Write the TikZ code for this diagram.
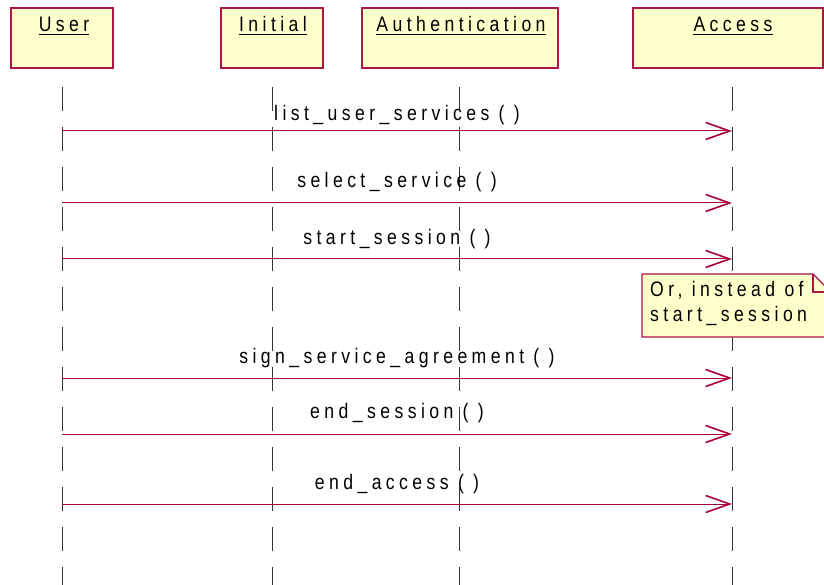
\documentclass[tikz,border=0pt]{standalone}
\usepackage{fontspec}
\usetikzlibrary{arrows.meta}
\newfontfamily\umlfont{Liberation Sans}[LetterSpace=21, FakeStretch=0.84]

\definecolor{objfill}{RGB}{255,255,204}
\definecolor{objline}{RGB}{170,20,70}
\definecolor{msgred}{RGB}{170,0,60}

\tikzset{
  objbox/.style={draw=objline, fill=objfill, line width=1.3pt},
  umltext/.style={font=\umlfont\fontsize{21}{25}\selectfont, inner sep=0pt},
  headtext/.style={umltext, anchor=base},
  msgtext/.style={umltext, anchor=base},
  lifeline/.style={draw=black!80, line width=0.9pt, dash pattern=on 24pt off 16pt},
  msg/.style={draw=msgred, line width=1pt,
    -{Straight Barb[length=24pt, width=17pt, line width=1.6pt]}},
  notebox/.style={draw=objline, fill=objfill, line width=1.1pt},
}

\begin{document}
\begin{tikzpicture}[x=1pt, y=-1pt]
\useasboundingbox (0,0) rectangle (824,585);
\clip (0,0) rectangle (824,585);

% object boxes
\path[objbox] (11,8) rectangle (113,68) coordinate (ubox);
\path[objbox] (221,8) rectangle (323,68) coordinate (ibox);
\path[objbox] (362,8) rectangle (558,68) coordinate (abox);
\path[objbox] (633,8) rectangle (823,68) coordinate (xbox);

% object names, underlined
\node[headtext] (uname) at (64,32) {User};
\node[headtext] (iname) at (273,32) {Initial};
\node[headtext] (aname) at (461,32) {Authentication};
\node[headtext] (xname) at (733,32) {Access};
\foreach \n in {uname,iname,aname,xname}
  \draw[line width=0.8pt] ([yshift=-2pt]\n.base west) -- ([yshift=-2pt]\n.base east);

% lifelines
\coordinate (utop) at (62,87);   \coordinate (ubot) at (62,600);
\coordinate (itop) at (272,87);  \coordinate (ibot) at (272,600);
\coordinate (atop) at (459,87);  \coordinate (abot) at (459,600);
\coordinate (xtop) at (732,87);  \coordinate (xbot) at (732,600);
\draw[lifeline] (utop) -- (ubot);
\draw[lifeline] (itop) -- (ibot);
\draw[lifeline] (atop) -- (abot);
\draw[lifeline] (xtop) -- (xbot);

% messages from User to Access
\foreach \k/\yy/\bl/\lbl in {
  1/131/121/{list\_user\_services ( )},
  2/203/188/{select\_service ( )},
  3/259/244/{start\_session ( )},
  4/378/363/{sign\_service\_agreement ( )},
  5/434/418/{end\_session ( )},
  6/504/489/{end\_access ( )}}{
  \coordinate (u\k) at (62,\yy);
  \coordinate (x\k) at (732,\yy);
  \draw[msg, draw=msgred] (u\k) -- (x\k);
  \node[msgtext] (m\k) at (397,\bl) {\lbl};
}

% note with folded corner
\path[notebox] (642,274) -- (813,274) -- (831,292) -- (831,337) -- (642,337) -- cycle;
\draw[objline, line width=1.1pt] (813,274) -- (813,292) -- (831,292);
\node[umltext, anchor=base west] (note1) at (650,296) {Or, instead of};
\node[umltext, anchor=base west] (note2) at (650,321) {start\_session};
\end{tikzpicture}
\end{document}
